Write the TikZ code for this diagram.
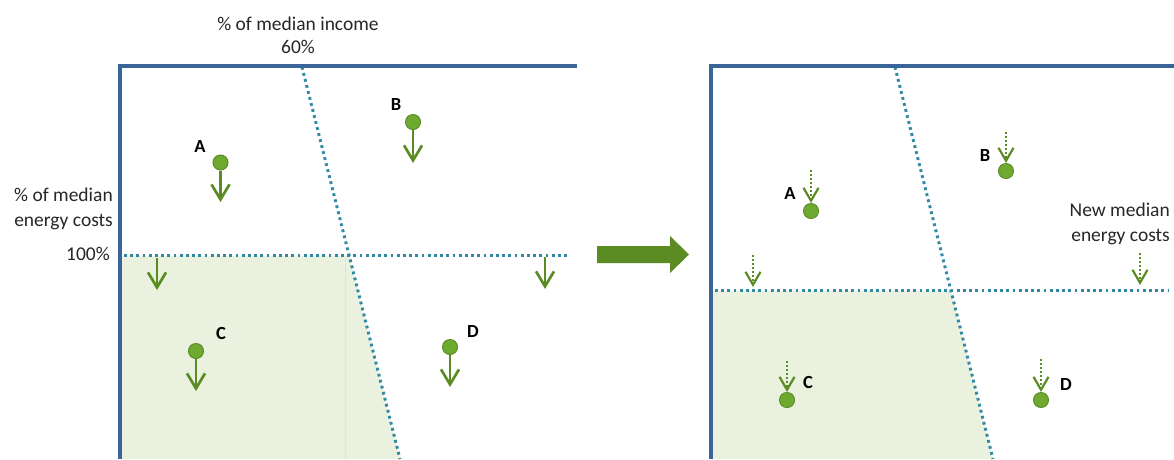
\documentclass[tikz,border=0pt]{standalone}
\usepackage{fontspec}
\setmainfont{Carlito}
\usetikzlibrary{arrows.meta}
\definecolor{axisblue}{HTML}{3A6598}
\definecolor{dotteal}{HTML}{3189A4}
\definecolor{zone}{HTML}{EAF1DE}
\definecolor{zoneedge}{HTML}{DCE8CB}
\definecolor{ptfill}{HTML}{6EAA30}
\definecolor{ptdraw}{HTML}{5B8D26}
\definecolor{arrgreen}{HTML}{5B8C23}
\begin{document}
\begin{tikzpicture}[x=1pt,y=-1pt,
  axisline/.style={draw=axisblue,line width=4.5pt,line join=miter},
  dotline/.style={draw=dotteal,line width=3pt,dash pattern=on 2.8pt off 3.4pt},
  pt/.style={circle,fill=ptfill,draw=ptdraw,line width=1pt,minimum size=15pt,inner sep=0pt},
  solidarr/.style={draw=arrgreen,line width=2.7pt,-{Straight Barb[length=15pt,width=18pt]}},
  dotarr/.style={draw=arrgreen,line width=2pt,dash pattern=on 2pt off 2pt,-{Straight Barb[length=13pt,width=15pt,line width=2.2pt]}},
  lbl/.style={font=\fontsize{18.5}{22}\selectfont\bfseries,inner sep=0pt,text=black},
  txt/.style={font=\fontsize{19.5}{25}\selectfont,inner sep=0pt,text=black!85}
]
\useasboundingbox (0,0) rectangle (1174,459);
% ---------- left panel ----------
\fill[zone] (122,256) -- (349.3,256) -- (400,459) -- (122,459) -- cycle;
\draw[zoneedge,line width=1pt] (345,256) -- (345,459);
\coordinate (LslT) at (302,67);
\coordinate (LslB) at (400,459);
\draw[dotline] (LslT) -- (LslB);
\coordinate (LhL) at (124,255);
\coordinate (LhR) at (568,255);
\draw[dotline] (LhL) -- (LhR);
\draw[axisline] (120,459) -- (120,66) -- (577,66);
\node[txt] (inc) at (298,24) {\% of median income};
\node[txt] (sixty) at (298,47) {60\%};
\node[txt,anchor=east,align=right] (ec) at (113,209) {\% of median\\energy costs};
\node[txt,anchor=east] (hund) at (110,254) {100\%};

\node[pt] (LA) at (220.5,162.5) {};
\node[lbl] (LAl) at (200,146) {A};
\coordinate (LAe) at (220.5,202);
\draw[solidarr] (LA) -- (LAe);
\node[pt] (LB) at (413,122) {};
\node[lbl] (LBl) at (396,104) {B};
\coordinate (LBe) at (413,163);
\draw[solidarr] (LB) -- (LBe);
\node[pt] (LC) at (196,351) {};
\node[lbl] (LCl) at (221,333) {C};
\coordinate (LCe) at (196,391);
\draw[solidarr] (LC) -- (LCe);
\node[pt] (LD) at (450,347) {};
\node[lbl] (LDl) at (473,331) {D};
\coordinate (LDe) at (450,387);
\draw[solidarr] (LD) -- (LDe);
\coordinate (Ls1) at (157,258);
\coordinate (Le1) at (157,290);
\draw[solidarr] (Ls1) -- (Le1);
\coordinate (Ls2) at (545,257);
\coordinate (Le2) at (545,289);
\draw[solidarr] (Ls2) -- (Le2);

% ---------- big arrow ----------
\fill[arrgreen] (597,246) -- (670,246) -- (670,236) -- (689,254.5) -- (670,273) -- (670,263) -- (597,263) -- cycle;

% ---------- right panel ----------
\fill[zone] (713,291) -- (951,291) -- (993,459) -- (713,459) -- cycle;
\coordinate (RslT) at (895,67);
\coordinate (RslB) at (993,459);
\draw[dotline] (RslT) -- (RslB);
\coordinate (RhL) at (715,290.5);
\coordinate (RhR) at (1168,290.5);
\draw[dotline] (RhL) -- (RhR);
\draw[axisline] (711,459) -- (711,66) -- (1174,66);
\node[txt,anchor=east,align=right] (nm) at (1170,224) {New median\\energy costs};

\node[pt] (RA) at (811,211) {};
\node[lbl] (RAl) at (790,193) {A};
\coordinate (RAs) at (811,170);
\draw[dotarr] (RAs) -- (RA);
\node[pt] (RB) at (1006,171) {};
\node[lbl] (RBl) at (985,155) {B};
\coordinate (RBs) at (1006,132);
\draw[dotarr] (RBs) -- (RB);
\node[pt] (RC) at (787,400) {};
\node[lbl] (RCl) at (808,382) {C};
\coordinate (RCs) at (787,361);
\draw[dotarr] (RCs) -- (RC);
\node[pt] (RD) at (1041,400) {};
\node[lbl] (RDl) at (1066,384) {D};
\coordinate (RDs) at (1041,359);
\draw[dotarr] (RDs) -- (RD);
\coordinate (Rs1) at (753,255);
\coordinate (Re1) at (753,287);
\draw[dotarr] (Rs1) -- (Re1);
\coordinate (Rs2) at (1140,253);
\coordinate (Re2) at (1140,285);
\draw[dotarr] (Rs2) -- (Re2);
\end{tikzpicture}
\end{document}
